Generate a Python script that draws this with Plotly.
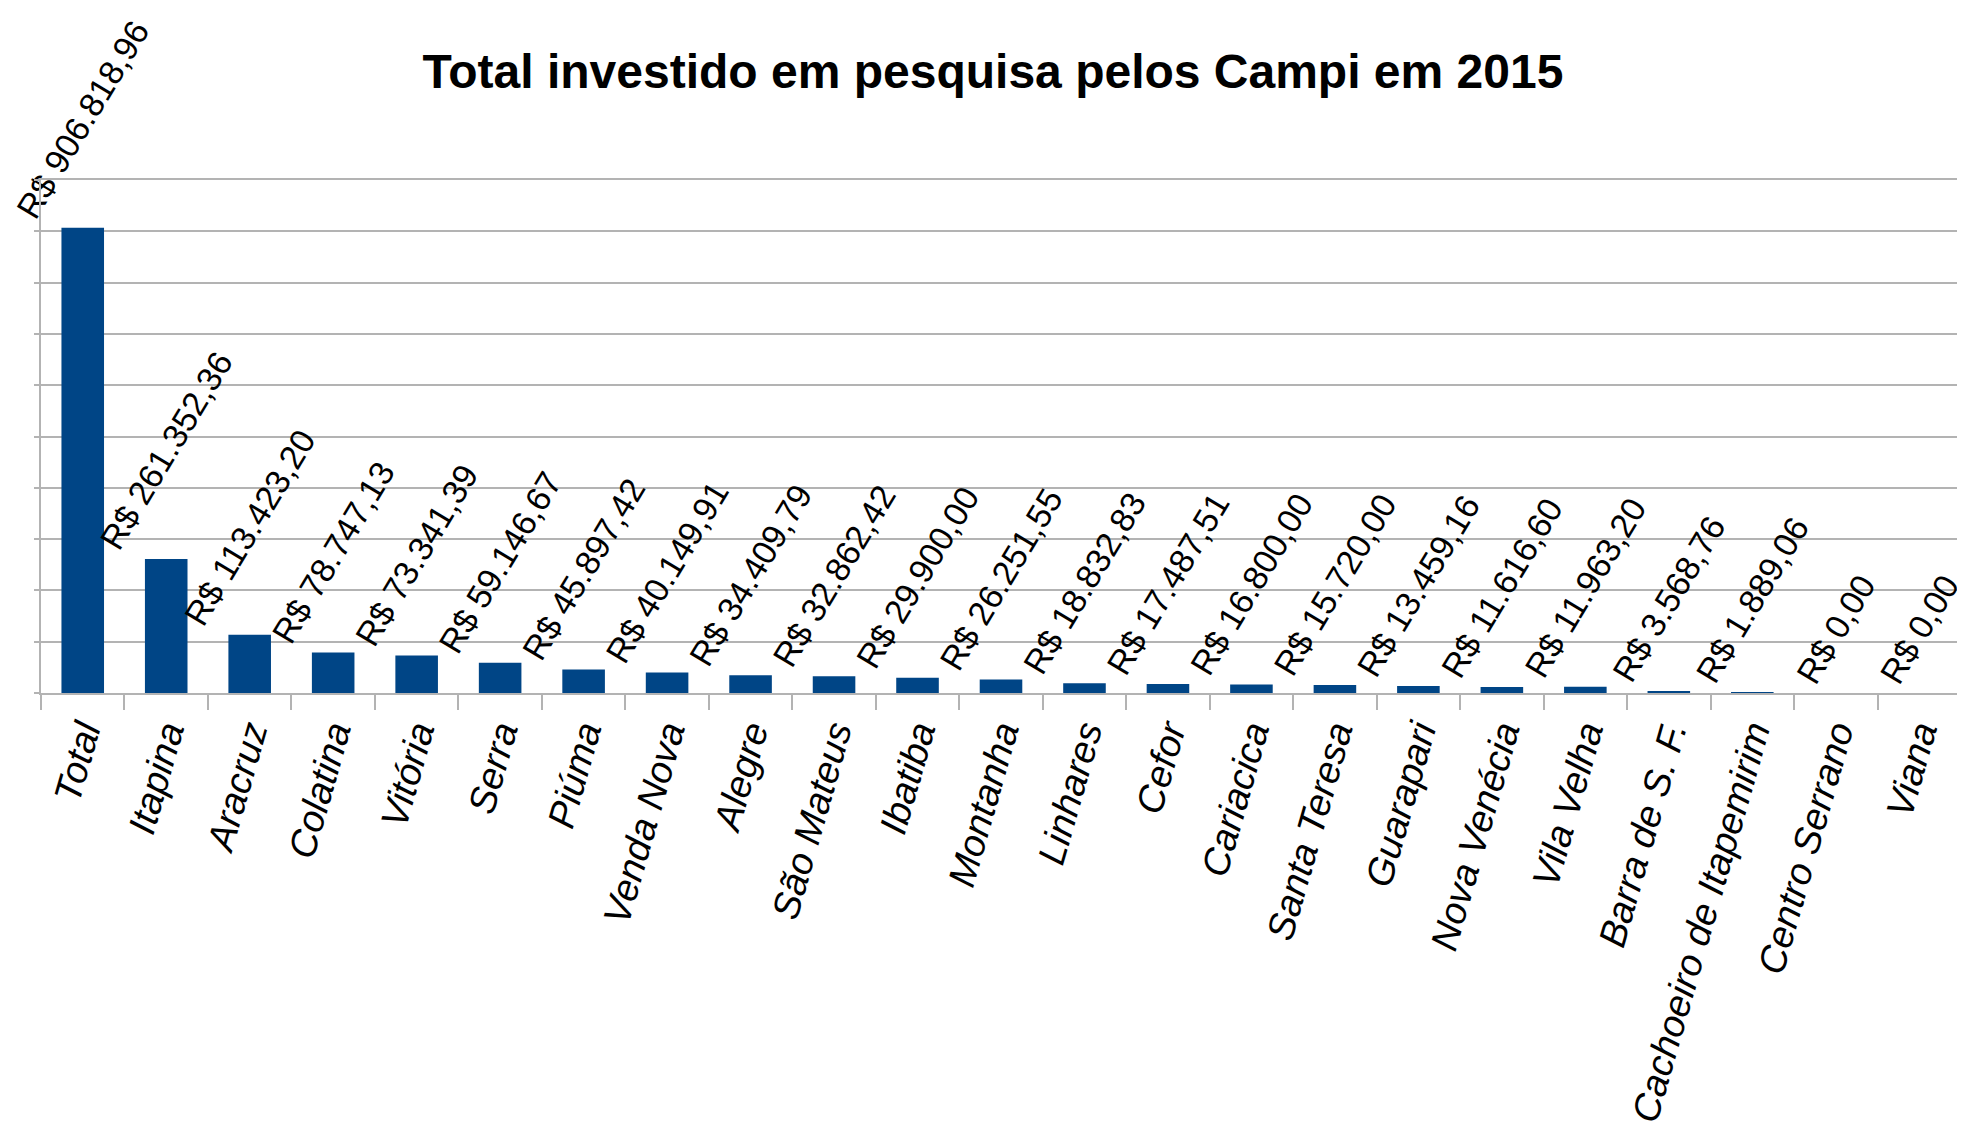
import plotly.graph_objects as go

campi = ['Total', 'Itapina', 'Aracruz', 'Colatina', 'Vitória', 'Serra', 'Piúma',
         'Venda Nova', 'Alegre', 'São Mateus', 'Ibatiba', 'Montanha', 'Linhares',
         'Cefor', 'Cariacica', 'Santa Teresa', 'Guarapari', 'Nova Venécia',
         'Vila Velha', 'Barra de S. F.', 'Cachoeiro de Itapemirim',
         'Centro Serrano', 'Viana']
investido = [906818.96, 261352.36, 113423.20, 78747.13, 73341.39, 59146.67, 45897.42,
             40149.91, 34409.79, 32862.42, 29900.00, 26251.55, 18832.83,
             17487.51, 16800.00, 15720.00, 13459.16, 11616.60,
             11963.20, 3568.76, 1889.06,
             0.00, 0.00]


def reais(v):
    s = f'{v:,.2f}'.replace(',', '#').replace('.', ',').replace('#', '.')
    return 'R$ ' + s


labels = [reais(v) for v in investido]

grid = '#b3b3b3'
font = 'Liberation Sans, Arial, sans-serif'

fig = go.Figure(go.Bar(
    x=campi, y=investido,
    marker=dict(color='#004586', line=dict(width=0)),
    text=labels, textposition='outside', textangle=-59,
    textfont=dict(family=font, size=34, color='black'),
    constraintext='none', cliponaxis=False,
))

# page body adds 8px, so figure is a bit smaller than the window
fig.update_layout(
    width=1957, height=1113,
    paper_bgcolor='white', plot_bgcolor='white',
    margin=dict(l=33, r=4, t=172, b=428),
    bargap=0.49,
    showlegend=False,
    title=dict(text='<b>Total investido em pesquisa pelos Campi em 2015</b>',
               x=0.5033, xanchor='center', y=0.9434, yanchor='middle',
               font=dict(family=font, size=48, color='black')),
    xaxis=dict(
        tickangle=-74, tickfont=dict(family=font, size=38, color='black', style='italic'),
        ticks='outside', tickson='boundaries', ticklen=15, tickwidth=2, tickcolor=grid,
        showline=True, linecolor=grid, linewidth=2, mirror=True,
        showgrid=False, automargin=False,
    ),
    yaxis=dict(
        range=[0, 1000000], dtick=100000, showticklabels=False,
        ticks='outside', ticklen=5, tickwidth=2, tickcolor=grid,
        showgrid=True, gridcolor=grid, gridwidth=2,
        showline=True, linecolor=grid, linewidth=2, mirror=True,
        zeroline=False, automargin=False,
    ),
)

fig.write_html('out.html')
